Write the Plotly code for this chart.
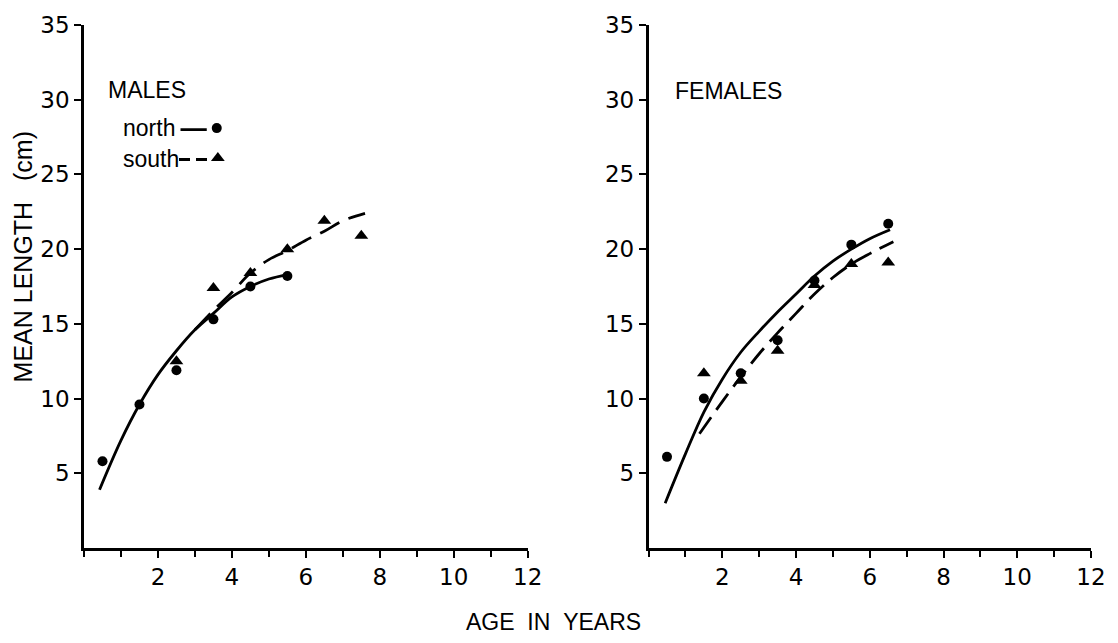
import plotly.graph_objects as go

# ---------------- data ----------------
# MALES – observed means
male_north_age = [0.5, 1.5, 2.5, 3.5, 4.5, 5.5]
male_north_len = [5.8, 9.6, 11.9, 15.3, 17.5, 18.2]
male_south_age = [2.5, 3.5, 4.5, 5.5, 6.5, 7.5]
male_south_len = [12.5, 17.4, 18.4, 20.0, 21.9, 20.9]
# MALES – fitted growth curves
male_north_fit_age = [0.42, 1.0, 1.5, 2.0, 2.5, 3.0, 3.5, 4.0, 4.5, 5.0, 5.5]
male_north_fit_len = [3.9, 7.2, 9.6, 11.6, 13.2, 14.6, 15.7, 16.8, 17.5, 18.0, 18.3]
male_south_fit_age = [3.0, 3.5, 4.0, 4.5, 5.0, 5.5, 6.0, 6.5, 7.0, 7.6]
male_south_fit_len = [14.6, 15.9, 17.1, 18.4, 19.3, 19.9, 20.6, 21.2, 21.9, 22.4]

# FEMALES – observed means
female_north_age = [0.5, 1.5, 2.5, 3.5, 4.5, 5.5, 6.5]
female_north_len = [6.1, 10.0, 11.7, 13.9, 17.9, 20.3, 21.7]
female_south_age = [1.5, 2.5, 3.5, 4.5, 5.5, 6.5]
female_south_len = [11.7, 11.2, 13.2, 17.6, 19.0, 19.1]
# FEMALES – fitted growth curves
female_north_fit_age = [0.45, 1.0, 1.5, 2.0, 2.5, 3.0, 3.5, 4.0, 4.5, 5.0, 5.5, 6.0, 6.55]
female_north_fit_len = [3.0, 6.3, 9.1, 11.3, 13.1, 14.5, 15.8, 17.0, 18.2, 19.2, 20.0, 20.7, 21.3]
female_south_fit_age = [1.38, 2.0, 2.5, 3.0, 3.5, 4.0, 4.5, 5.0, 5.5, 6.0, 6.64]
female_south_fit_len = [7.65, 9.8, 11.45, 13.0, 14.4, 15.7, 17.0, 18.1, 19.0, 19.7, 20.5]

x_tickvals = [2, 4, 6, 8, 10, 12]
y_tickvals = [5, 10, 15, 20, 25, 30, 35]

# legend key positions (in the males panel data units)
legend_north_line_x = [2.61, 3.32]
legend_north_line_y = [28.0, 28.0]
legend_north_mark = ([3.59], [28.1])
legend_south_line_x = [2.57, 3.41]
legend_south_line_y = [26.0, 26.0]
legend_south_mark = ([3.62], [26.1])

FONT = "Liberation Sans, Arial, sans-serif"
TICKFONT = "DejaVu Sans, sans-serif"
BLACK = "#000000"
LW = 2.8
DASH = "22px,10px"

fig = go.Figure()

def add_panel(xa, ya, n_fit, s_fit, n_pts, s_pts, dash):
    fig.add_trace(go.Scatter(x=n_fit[0], y=n_fit[1], mode="lines", xaxis=xa, yaxis=ya,
                             line=dict(color=BLACK, width=LW, shape="spline", smoothing=1.0),
                             showlegend=False, hoverinfo="skip"))
    fig.add_trace(go.Scatter(x=s_fit[0], y=s_fit[1], mode="lines", xaxis=xa, yaxis=ya,
                             line=dict(color=BLACK, width=LW, dash=dash, shape="spline", smoothing=1.0),
                             showlegend=False, hoverinfo="skip"))
    fig.add_trace(go.Scatter(x=n_pts[0], y=n_pts[1], mode="markers", xaxis=xa, yaxis=ya,
                             marker=dict(symbol="circle", size=10, color=BLACK),
                             name="north", showlegend=False))
    fig.add_trace(go.Scatter(x=s_pts[0], y=s_pts[1], mode="markers", xaxis=xa, yaxis=ya,
                             marker=dict(symbol="triangle-up", size=12, color=BLACK),
                             name="south", showlegend=False))

add_panel("x", "y",
          (male_north_fit_age, male_north_fit_len), (male_south_fit_age, male_south_fit_len),
          (male_north_age, male_north_len), (male_south_age, male_south_len), DASH)
add_panel("x2", "y2",
          (female_north_fit_age, female_north_fit_len), (female_south_fit_age, female_south_fit_len),
          (female_north_age, female_north_len), (female_south_age, female_south_len), "20px,9px")

# legend keys drawn inside the males panel
fig.add_trace(go.Scatter(x=legend_north_line_x, y=legend_north_line_y, mode="lines",
                         line=dict(color=BLACK, width=LW), showlegend=False, hoverinfo="skip"))
fig.add_trace(go.Scatter(x=legend_north_mark[0], y=legend_north_mark[1], mode="markers",
                         marker=dict(symbol="circle", size=10, color=BLACK), showlegend=False, hoverinfo="skip"))
fig.add_trace(go.Scatter(x=legend_south_line_x, y=legend_south_line_y, mode="lines",
                         line=dict(color=BLACK, width=LW, dash="11px,6px"), showlegend=False, hoverinfo="skip"))
fig.add_trace(go.Scatter(x=legend_south_mark[0], y=legend_south_mark[1], mode="markers",
                         marker=dict(symbol="triangle-up", size=12, color=BLACK), showlegend=False, hoverinfo="skip"))

W, H = 1118, 643
L, R, T, B = 84, 15, 22, 95
plot_w = W - L - R

xaxis_common = dict(range=[0, 12], showline=True, linecolor=BLACK, linewidth=2.5,
                    ticks="outside", ticklen=7, tickwidth=2, tickcolor=BLACK,
                    tickvals=x_tickvals, ticktext=[str(v) for v in x_tickvals],
                    minor=dict(dtick=1, tick0=0, ticks="outside", ticklen=6, tickwidth=2, tickcolor=BLACK),
                    showgrid=False, zeroline=False,
                    tickfont=dict(family=TICKFONT, size=23, color=BLACK))
yaxis_common = dict(range=[0, 35], showline=True, linecolor=BLACK, linewidth=2.5,
                    ticks="outside", ticklen=7, tickwidth=2, tickcolor=BLACK,
                    tickvals=y_tickvals, ticktext=[str(v) for v in y_tickvals],
                    showgrid=False, zeroline=False,
                    tickfont=dict(family=TICKFONT, size=23, color=BLACK))

fig.update_layout(
    width=W, height=H,
    margin=dict(l=L, r=R, t=T, b=B),
    paper_bgcolor="white", plot_bgcolor="white",
    font=dict(family=FONT, size=22, color=BLACK),
    xaxis=dict(domain=[0, 449 / plot_w], anchor="y", **xaxis_common),
    yaxis=dict(domain=[0, 1], anchor="x", **yaxis_common),
    xaxis2=dict(domain=[571.3 / plot_w, 1], anchor="y2", **xaxis_common),
    yaxis2=dict(domain=[0, 1], anchor="x2", **yaxis_common),
    annotations=[
        dict(text="MALES", x=0.6, y=30.67, xref="x", yref="y", xanchor="left", yanchor="middle",
             showarrow=False, font=dict(family=FONT, size=23, color=BLACK)),
        dict(text="north", x=1.0, y=28.1, xref="x", yref="y", xanchor="left", yanchor="middle",
             showarrow=False, font=dict(family=FONT, size=23, color=BLACK)),
        dict(text="south", x=1.0, y=26.0, xref="x", yref="y", xanchor="left", yanchor="middle",
             showarrow=False, font=dict(family=FONT, size=23, color=BLACK)),
        dict(text="FEMALES", x=0.66, y=30.6, xref="x2", yref="y2", xanchor="left", yanchor="middle",
             showarrow=False, font=dict(family=FONT, size=23, color=BLACK)),
        dict(text="MEAN\u00a0LENGTH\u00a0\u00a0\u00a0(cm)", x=(22 - L) / plot_w, y=(548 - 255) / (548 - 22),
             xref="paper", yref="paper", xanchor="center", yanchor="middle", textangle=-90,
             showarrow=False, font=dict(family=FONT, size=25, color=BLACK)),
        dict(text="AGE\u00a0\u00a0IN\u00a0\u00a0YEARS", x=(559 - L) / plot_w, y=(548 - 622) / (548 - 22),
             xref="paper", yref="paper", xanchor="center", yanchor="middle",
             showarrow=False, font=dict(family=FONT, size=23, color=BLACK)),
    ],
)

fig.write_html("out.html", config={"displayModeBar": False},
               post_script="document.body.style.margin='0';")
